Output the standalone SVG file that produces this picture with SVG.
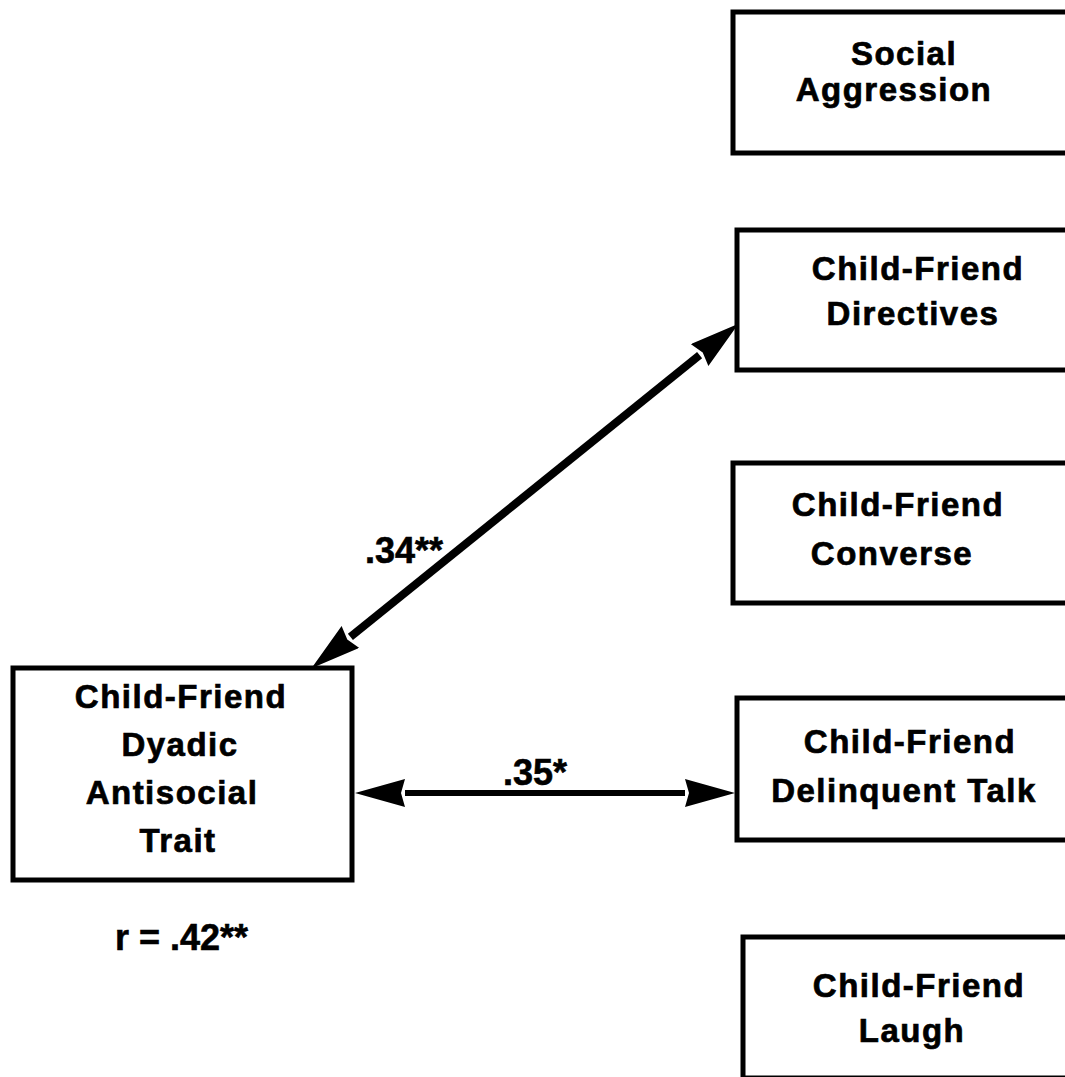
<svg xmlns="http://www.w3.org/2000/svg" width="1065" height="1077" viewBox="0 0 1065 1077">
<style>
.box{fill:#fff;stroke:#000;stroke-width:5}
.t{font-family:"Liberation Sans",Arial,Helvetica,sans-serif;font-weight:bold;font-size:33px;letter-spacing:1.5px;text-anchor:middle;fill:#000;stroke:#000;stroke-width:0.7px}
.lbl{font-family:"Liberation Sans",Arial,Helvetica,sans-serif;font-weight:bold;font-size:36px;fill:#000;stroke:#000;stroke-width:0.6px}
.conn{stroke:#000;fill:none;marker-start:url(#ah);marker-end:url(#ah)}
</style>
<defs>
<marker id="ah" viewBox="0 0 50 28" refX="0" refY="14" markerWidth="50" markerHeight="28" markerUnits="userSpaceOnUse" orient="auto-start-reverse">
<path d="M0,0 L50,14 L0,28 L4,14 Z" fill="#000"/>
</marker>
</defs>
<rect width="1065" height="1077" fill="#fff"/>
<g id="connectors">
<line class="conn" x1="350.4" y1="636.9" x2="699.6" y2="355.1" stroke-width="8"/>
<line class="conn" x1="405" y1="793" x2="685" y2="793" stroke-width="6"/>
</g>
<g id="node-social-aggression">
<rect class="box" x="733" y="12" width="345" height="141"/>
<text class="t" x="904" y="65">Social</text>
<text class="t" x="894" y="101">Aggression</text>
</g>
<g id="node-directives">
<rect class="box" x="737" y="230" width="345" height="140"/>
<text class="t" x="918" y="280">Child-Friend</text>
<text class="t" x="913" y="325">Directives</text>
</g>
<g id="node-converse">
<rect class="box" x="733" y="463" width="345" height="140"/>
<text class="t" x="898" y="516">Child-Friend</text>
<text class="t" x="892" y="565">Converse</text>
</g>
<g id="node-delinquent">
<rect class="box" x="737" y="698" width="345" height="142"/>
<text class="t" x="910" y="753">Child-Friend</text>
<text class="t" x="904" y="802">Delinquent Talk</text>
</g>
<g id="node-laugh">
<rect class="box" x="743" y="937" width="345" height="141"/>
<text class="t" x="919" y="997">Child-Friend</text>
<text class="t" x="912" y="1042">Laugh</text>
</g>
<g id="node-dyadic">
<rect class="box" x="13" y="668" width="339" height="212"/>
<text class="t" x="181" y="708">Child-Friend</text>
<text class="t" x="180" y="756">Dyadic</text>
<text class="t" x="172" y="804">Antisocial</text>
<text class="t" x="178" y="852">Trait</text>
</g>
<g id="labels">
<text class="lbl" x="365" y="563">.34**</text>
<text class="lbl" x="503" y="785">.35*</text>
<text class="lbl" x="115" y="950">r = .42**</text>
</g>
</svg>
